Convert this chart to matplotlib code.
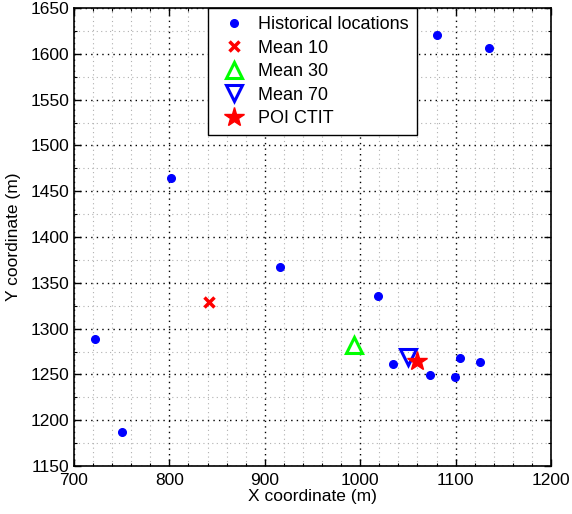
import matplotlib
matplotlib.use("Agg")
import matplotlib.pyplot as plt
from matplotlib.ticker import MultipleLocator

plt.rcParams["font.family"] = ["Liberation Sans", "DejaVu Sans"]

# historical locations (m)
HIST_X = [1081, 1135, 802, 916, 1019, 722, 750, 1034, 1073, 1099, 1105, 1126]
HIST_Y = [1620, 1606, 1464, 1367, 1336, 1289, 1187, 1261, 1249, 1247, 1268, 1263]

MEAN10 = (841, 1329)
MEAN30 = (993, 1282)
MEAN70 = (1050, 1269)
POI = (1060, 1265)

fig = plt.figure(figsize=(5.72, 5.14), dpi=100, facecolor="white")
ax = fig.add_axes([74 / 572, 1 - 466 / 514, 477 / 572, 458 / 514])

ax.plot(HIST_X, HIST_Y, "o", color="blue", markersize=5.5, linestyle="none",
        label="Historical locations", zorder=3)
ax.plot(*MEAN10, "x", color="red", markersize=7, mew=2.5,
        label="Mean 10", zorder=3)
ax.plot(*MEAN30, "^", color="#00ff00", markerfacecolor="none", markersize=11,
        mew=2.2, label="Mean 30", zorder=3)
ax.plot(*MEAN70, "v", color="blue", markerfacecolor="none", markersize=11,
        mew=2.2, label="Mean 70", zorder=3)
ax.plot(*POI, "*", color="red", markersize=15, label="POI CTIT", zorder=4)

ax.set_xlim(700, 1200)
ax.set_ylim(1150, 1650)
ax.xaxis.set_major_locator(MultipleLocator(100))
ax.xaxis.set_minor_locator(MultipleLocator(20))
ax.yaxis.set_major_locator(MultipleLocator(50))
ax.yaxis.set_minor_locator(MultipleLocator(25))

ax.grid(which="major", color="black", linestyle=(0, (1, 3)), linewidth=1.0)
ax.grid(which="minor", color="#b0b0b0", linestyle=(0, (1, 3)), linewidth=0.8)
ax.set_axisbelow(True)

ax.tick_params(which="both", direction="in", top=True, right=True,
               labelsize=12.5, colors="black")
ax.tick_params(which="major", length=5, width=1)
ax.tick_params(axis="x", which="major", pad=5)
ax.tick_params(axis="y", which="major", pad=3.5)
ax.tick_params(which="minor", length=2.5, width=0.8)
for sp in ax.spines.values():
    sp.set_linewidth(1.2)

ax.set_xlabel("X coordinate (m)", fontsize=12.5, labelpad=1)
ax.set_ylabel("Y coordinate (m)", fontsize=12.5, labelpad=7)

leg = ax.legend(loc="upper left", bbox_to_anchor=(208 / 572, 1 - 8 / 514),
                bbox_transform=fig.transFigure, fancybox=False,
                edgecolor="black", framealpha=1, fontsize=13,
                handletextpad=0.33, borderaxespad=0, labelspacing=0.36,
                borderpad=0.45, numpoints=1, handlelength=2.0)
leg.get_frame().set_linewidth(1.0)

fig.savefig("out.png", dpi=100, facecolor="white")
